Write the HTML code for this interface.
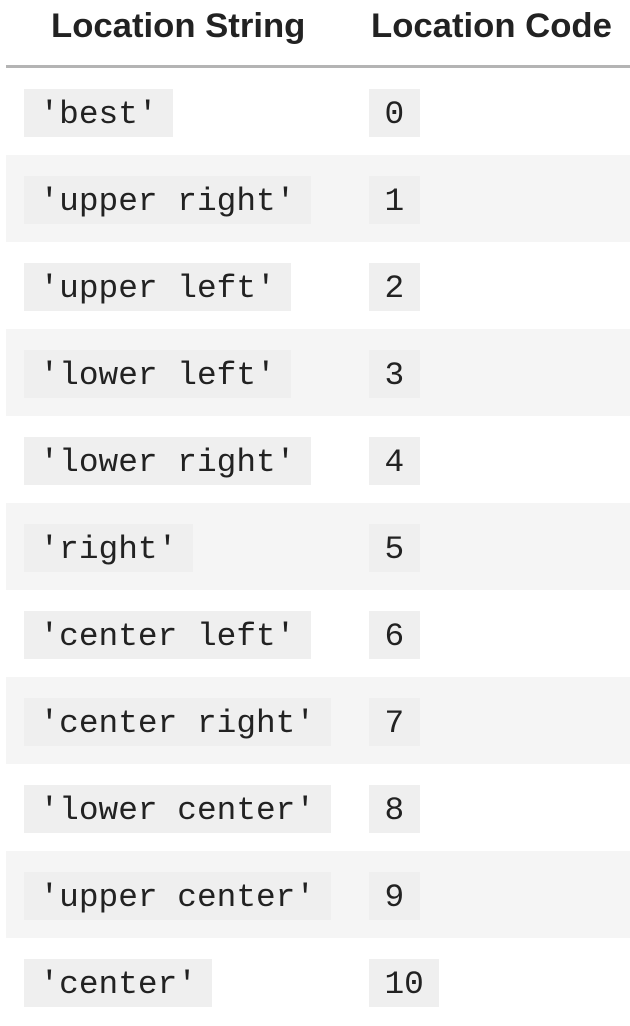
<!DOCTYPE html>
<html><head><meta charset="utf-8"><style>
body{margin:0;width:630px;height:1026px;background:#fff;overflow:hidden;position:relative;font-family:"Liberation Sans",sans-serif}
.h{position:absolute;top:4px;font-weight:bold;font-size:34.7px;color:#222;line-height:44px}
.line{position:absolute;left:6px;top:65px;width:624px;height:3px;background:#b4b4b4}
.row{position:absolute;left:6px;width:624px;height:87px}
.g{background:#f5f5f5}
.c{position:absolute;height:48px;line-height:52px;padding:0 15.5px;background:#efefef;font-family:"Liberation Mono",monospace;font-size:32.8px;color:#222;white-space:pre;overflow:hidden}
</style></head><body>
<div class="h" style="left:51px">Location String</div>
<div class="h" style="left:371px">Location Code</div>
<div class="line"></div>
<div class="row g" style="top:155px"></div>
<div class="row g" style="top:329px"></div>
<div class="row g" style="top:503px"></div>
<div class="row g" style="top:677px"></div>
<div class="row g" style="top:851px"></div>

<div class="c" style="left:24px;top:89px">'best'</div><div class="c" style="left:369px;top:89px">0</div>
<div class="c" style="left:24px;top:176px">'upper right'</div><div class="c" style="left:369px;top:176px">1</div>
<div class="c" style="left:24px;top:263px">'upper left'</div><div class="c" style="left:369px;top:263px">2</div>
<div class="c" style="left:24px;top:350px">'lower left'</div><div class="c" style="left:369px;top:350px">3</div>
<div class="c" style="left:24px;top:437px">'lower right'</div><div class="c" style="left:369px;top:437px">4</div>
<div class="c" style="left:24px;top:524px">'right'</div><div class="c" style="left:369px;top:524px">5</div>
<div class="c" style="left:24px;top:611px">'center left'</div><div class="c" style="left:369px;top:611px">6</div>
<div class="c" style="left:24px;top:698px">'center right'</div><div class="c" style="left:369px;top:698px">7</div>
<div class="c" style="left:24px;top:785px">'lower center'</div><div class="c" style="left:369px;top:785px">8</div>
<div class="c" style="left:24px;top:872px">'upper center'</div><div class="c" style="left:369px;top:872px">9</div>
<div class="c" style="left:24px;top:959px">'center'</div><div class="c" style="left:369px;top:959px">10</div>
</body></html>
